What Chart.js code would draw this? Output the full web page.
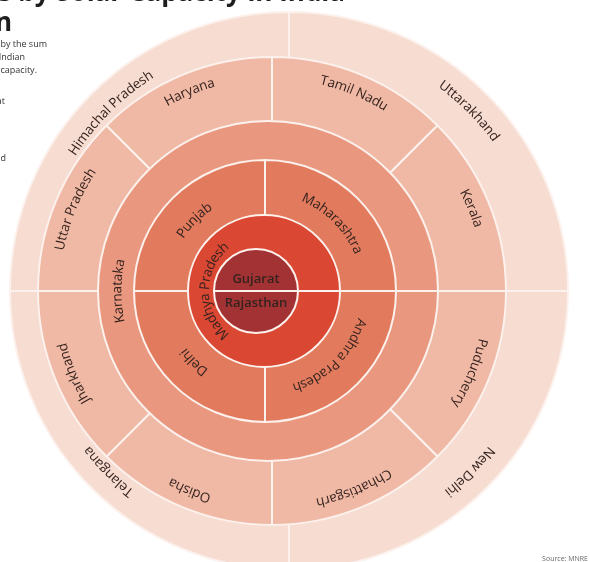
<!DOCTYPE html>
<html><head><meta charset="utf-8">
<script src="https://cdn.jsdelivr.net/npm/chart.js@4.4.1/dist/chart.umd.min.js"></script>
<style>
html,body{margin:0;padding:0;background:#fff;width:590px;height:562px;overflow:hidden;position:relative;font-family:'Open Sans',sans-serif;}
#wrap{position:absolute;left:-30px;top:-9px;width:600px;height:600px;}
.title{position:absolute;white-space:nowrap;font-weight:700;font-size:26px;line-height:30px;color:#1e1e1e;}
.note{position:absolute;white-space:nowrap;font-size:9px;line-height:11px;color:#333;}
</style></head><body>
<div id="wrap"><canvas id="c"></canvas></div>
<div class="title" style="right:245px;top:-24px;">Top States by Solar Capacity in India</div>
<div class="title" style="right:578px;top:6px;">Rooftop installation</div>
<div class="note" style="right:543px;top:38px;">States are ranked by the sum</div>
<div class="note" style="right:565px;top:51px;">of Indian</div>
<div class="note" style="right:553px;top:64px;">installed capacity.</div>
<div class="note" style="right:585px;top:95px;">at</div>
<div class="note" style="right:584px;top:152px;">and</div>
<div class="note" style="right:2px;top:553px;font-size:7px;color:#666;">Source: MNRE</div>
<script>
// ---- data (outer ring -> centre) ----
const outerStates  = ['Uttarakhand', 'New Delhi', 'Telangana', 'Himachal Pradesh'];
const outerValues  = [1, 1, 1, 1];
const tier5States  = ['Tamil Nadu', 'Kerala', 'Puducherry', 'Chhattisgarh', 'Odisha', 'Jharkhand', 'Uttar Pradesh', 'Haryana'];
const tier5Values  = [1, 1, 1, 1, 1, 1, 1, 1];
const tier4States  = ['Karnataka'];
const tier4Values  = [1];
const tier3States  = ['Maharashtra', 'Andhra Pradesh', 'Delhi', 'Punjab'];
const tier3Values  = [1, 1, 1, 1];
const tier2States  = ['Madhya Pradesh'];
const tier2Values  = [1];
const centerStates = ['Gujarat', 'Rajasthan'];
const centerValues = [1, 1];

// ---- styling ----
const ringNames    = [outerStates, tier5States, tier4States, tier3States, tier2States, centerStates];
const ringValues   = [outerValues, tier5Values, tier4Values, tier3Values, tier2Values, centerValues];
const ringColors   = ['#f6dcd1', '#f0b9a5', '#e9977e', '#e27b5e', '#da4733', '#a33234'];
const ringWeights  = [45, 64, 39, 55, 34, 42];
const ringShiftX   = [19, 2, -2, -5, -6, -14];
const ringRotation = [0, 0, 90, 0, 90, -90];
const labelFrac    = [0.5, 0.72, 0.5, 0.45, 0.5, 0];
const OVERLAP = 24;

const datasets = ringValues.map((vals, i) => ({
  data: vals,
  stateNames: ringNames[i],
  backgroundColor: ringColors[i],
  borderColor: '#fcf1ec',
  borderWidth: 2,
  weight: ringWeights[i],
  rotation: ringRotation[i],
  order: ringValues.length - 1 - i,
  clip: false
}));

function drawArcText(ctx, text, cx, cy, r, mid) {
  const chars = [...text];
  const widths = chars.map(ch => ctx.measureText(ch).width);
  const total = widths.reduce((a, b) => a + b, 0);
  let a = mid - total / r / 2;
  chars.forEach((ch, k) => {
    const ang = a + (widths[k] / 2) / r;
    ctx.save();
    ctx.translate(cx + r * Math.cos(ang), cy + r * Math.sin(ang));
    ctx.rotate(ang + Math.PI / 2);
    ctx.fillText(ch, 0, 0);
    ctx.restore();
    a += widths[k] / r;
  });
}

const ringPlugin = {
  id: 'rings',
  beforeDatasetDraw(chart, args) {
    const i = args.index, meta = args.meta, ctrl = meta.controller;
    if (i < chart.data.datasets.length - 1) {
      meta.data.forEach(arc => { arc.innerRadius = Math.max(0, ctrl.innerRadius - OVERLAP); });
    }
    chart.ctx.save();
    chart.ctx.translate(ringShiftX[i], 0);
  },
  afterDatasetDraw(chart) { chart.ctx.restore(); },
  afterDatasetsDraw(chart) {
    const ctx = chart.ctx;
    const last = chart.data.datasets.length - 1;
    chart.data.datasets.forEach((ds, di) => {
      const meta = chart.getDatasetMeta(di);
      const ctrl = meta.controller;
      ctx.save();
      ctx.fillStyle = '#35231f';
      ctx.textAlign = 'center';
      ctx.textBaseline = 'middle';
      meta.data.forEach((arc, k) => {
        const name = ds.stateNames[k];
        const cx = arc.x + ringShiftX[di], cy = arc.y;
        if (di === last) {
          ctx.font = '600 13px "Open Sans"';
          const mid = (arc.startAngle + arc.endAngle) / 2;
          ctx.fillText(name, cx, cy + (Math.sin(mid) < 0 ? -12 : 12));
        } else {
          ctx.font = '13.5px "Open Sans"';
          const r = ctrl.innerRadius + labelFrac[di] * (ctrl.outerRadius - ctrl.innerRadius);
          drawArcText(ctx, name, cx, cy, r, (arc.startAngle + arc.endAngle) / 2);
        }
      });
      ctx.restore();
    });
  }
};

new Chart(document.getElementById('c'), {
  type: 'doughnut',
  data: { labels: outerStates, datasets },
  options: {
    responsive: true,
    maintainAspectRatio: false,
    animation: false,
    cutout: 0,
    radius: 279,
    layout: { padding: 0 },
    plugins: { legend: { display: false }, tooltip: { enabled: false } }
  },
  plugins: [ringPlugin]
});
</script>
</body></html>
